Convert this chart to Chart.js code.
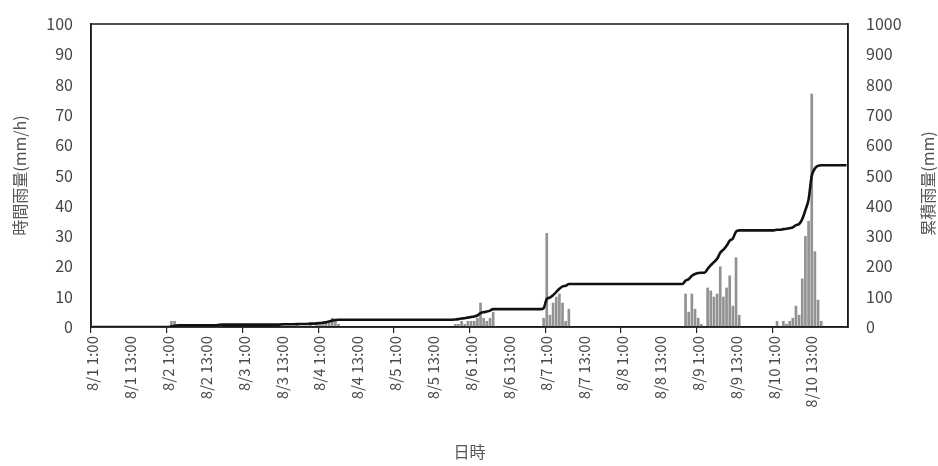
<!DOCTYPE html>
<html>
<head>
<meta charset="utf-8">
<script src="https://cdn.jsdelivr.net/npm/chart.js@4/dist/chart.umd.min.js"></script>
<style>
  html, body { margin: 0; padding: 0; background: #fff; }
  #wrap { width: 938px; height: 466px; }
</style>
</head>
<body>
<div id="wrap"><canvas id="c" width="938" height="466"></canvas></div>
<script>
// Days covered by the record (each day runs 1:00 ... 24:00, shown as next day 0:00)
const days = ['8/1', '8/2', '8/3', '8/4', '8/5', '8/6', '8/7', '8/8', '8/9', '8/10', '8/11'];

// Hourly rainfall (mm/h), one row per day, 1:00 ... 0:00
const hourlyRain = [
  0, 0, 0, 0, 0, 0, 0, 0, 0, 0, 0, 0, 0, 0, 0, 0, 0, 0, 0, 0, 0, 0, 0, 0,        // 8/1
  0, 2, 2, 1, 1, 0, 0, 0, 0, 0, 0, 0, 0, 0, 0, 0, 1, 1, 0, 0, 0, 0, 0, 0,        // 8/2
  0, 0, 0, 0, 0, 0, 0, 0, 0, 0, 0, 0, 1, 0, 0, 0, 0, 1, 0, 0, 0, 1, 0, 1,        // 8/3
  1, 1, 2, 2, 3, 2, 1, 0, 0, 0, 0, 0, 0, 0, 0, 0, 0, 0, 0, 0, 0, 0, 0, 0,        // 8/4
  0, 0, 0, 0, 0, 0, 0, 0, 0, 0, 0, 0, 0, 0, 0, 0, 0, 0, 0, 1, 1, 2, 1, 2,        // 8/5
  2, 2, 3, 8, 3, 2, 3, 5, 0, 0, 0, 0, 0, 0, 0, 0, 0, 0, 0, 0, 0, 0, 0, 3,        // 8/6
  31, 4, 8, 10, 11, 8, 2, 6, 0, 0, 0, 0, 0, 0, 0, 0, 0, 0, 0, 0, 0, 0, 0, 0,     // 8/7
  0, 0, 0, 0, 0, 0, 0, 0, 0, 0, 0, 0, 0, 0, 0, 0, 0, 0, 0, 0, 11, 5, 11, 6,      // 8/8
  3, 1, 0, 13, 12, 10, 11, 20, 10, 13, 17, 7, 23, 4, 0, 0, 0, 0, 0, 0, 0, 0, 0, 0, // 8/9
  0, 2, 0, 2, 1, 2, 3, 7, 4, 16, 30, 35, 77, 25, 9, 2, 0, 0, 0, 0, 0, 0, 0, 0     // 8/10
];

// Cumulative rainfall (mm), same hours
const cumulativeRain = [
  0, 0, 0, 0, 0, 0, 0, 0, 0, 0, 0, 0, 0, 0, 0, 0, 0, 0, 0, 0, 0, 0, 0, 0,                            // 8/1
  0, 2, 4, 5, 6, 6, 6, 6, 6, 6, 6, 6, 6, 6, 6, 6, 7, 8, 8, 8, 8, 8, 8, 8,                            // 8/2
  8, 8, 8, 8, 8, 8, 8, 8, 8, 8, 8, 8, 9, 9, 9, 9, 9, 10, 10, 10, 10, 11, 11, 12,                     // 8/3
  13, 14, 16, 18, 21, 23, 24, 24, 24, 24, 24, 24, 24, 24, 24, 24, 24, 24, 24, 24, 24, 24, 24, 24,    // 8/4
  24, 24, 24, 24, 24, 24, 24, 24, 24, 24, 24, 24, 24, 24, 24, 24, 24, 24, 24, 25, 26, 28, 29, 31,    // 8/5
  33, 35, 38, 46, 49, 51, 54, 59, 59, 59, 59, 59, 59, 59, 59, 59, 59, 59, 59, 59, 59, 59, 59, 62,    // 8/6
  93, 97, 105, 115, 126, 134, 136, 142, 142, 142, 142, 142, 142, 142, 142, 142, 142, 142, 142, 142, 142, 142, 142, 142, // 8/7
  142, 142, 142, 142, 142, 142, 142, 142, 142, 142, 142, 142, 142, 142, 142, 142, 142, 142, 142, 142, 153, 158, 169, 175, // 8/8
  178, 179, 179, 192, 204, 214, 225, 245, 255, 268, 285, 292, 315, 319, 319, 319, 319, 319, 319, 319, 319, 319, 319, 319, // 8/9
  319, 321, 321, 323, 324, 326, 329, 336, 340, 356, 386, 421, 498, 523, 532, 534, 534, 534, 534, 534, 534, 534, 534, 534  // 8/10
];

// Axis ranges
const rainTicks = { min: 0, max: 100, step: 10 };
const cumTicks = { min: 0, max: 1000, step: 100 };
const labelEvery = 12;   // a date label every 12 hours
const markEvery = 24;    // a tick mark once a day

// Hour labels "8/1 1:00" ... "8/11 0:00"
const hourLabels = [];
for (let d = 0; d < days.length - 1; d++) {
  for (let h = 1; h <= 24; h++) {
    hourLabels.push(h < 24 ? days[d] + ' ' + h + ':00' : days[d + 1] + ' 0:00');
  }
}

const FONT = '"Noto Sans CJK JP", "Noto Sans", sans-serif';

// Black frame around the plot area, and the right-hand axis title
const framePlugin = {
  id: 'frame',
  afterDraw(chart) {
    const { ctx, chartArea: a } = chart;
    ctx.save();
    ctx.strokeStyle = '#1a1a1a';
    ctx.lineWidth = 1.5;
    ctx.strokeRect(a.left, a.top, a.right - a.left, a.bottom - a.top);
    ctx.translate(928, (a.top + a.bottom) / 2 + 8);
    ctx.rotate(-Math.PI / 2);
    ctx.fillStyle = '#555';
    ctx.font = '16px ' + FONT;
    ctx.textAlign = 'center';
    ctx.textBaseline = 'middle';
    ctx.fillText('累積雨量(mm)', 0, 0);
    ctx.restore();
  }
};

// Fixed axis boxes so the plot area sits at a set place
const fitY = w => s => { s.width = w; s.paddingTop = 0; s.paddingBottom = 0; };

new Chart(document.getElementById('c'), {
  type: 'bar',
  data: {
    labels: hourLabels,
    datasets: [
      {
        type: 'line',
        label: '累積雨量',
        data: cumulativeRain,
        yAxisID: 'y1',
        borderColor: '#111',
        borderWidth: 2.6,
        pointRadius: 0,
        cubicInterpolationMode: 'monotone',
        order: 0
      },
      {
        type: 'bar',
        label: '時間雨量',
        data: hourlyRain,
        yAxisID: 'y',
        backgroundColor: '#929292',
        barPercentage: 0.85,
        categoryPercentage: 1,
        order: 1
      }
    ]
  },
  options: {
    responsive: false,
    animation: false,
    layout: { padding: { top: 24, left: 0, right: 0, bottom: 0 } },
    plugins: { legend: { display: false }, tooltip: { enabled: false } },
    scales: {
      x: {
        offset: true,
        grid: {
          offset: true,
          drawOnChartArea: false,
          tickLength: 6,
          lineWidth: 1.2,
          color: c => (c.index % markEvery === 0 ? '#222' : 'rgba(0,0,0,0)')
        },
        border: { color: '#1a1a1a', width: 1.5 },
        ticks: {
          autoSkip: false,
          maxRotation: 90,
          minRotation: 90,
          padding: 3,
          color: '#4a4a4a',
          font: { family: FONT, size: 15 },
          callback: (v, i) => (i % labelEvery === 0 ? hourLabels[i] : '')
        },
        title: {
          display: true,
          text: '日時',
          color: '#555',
          font: { family: FONT, size: 16 },
          padding: { top: 0, bottom: 4 }
        },
        afterFit: s => { s.height = 139; s.paddingLeft = 0; s.paddingRight = 0; }
      },
      y: {
        position: 'left',
        min: rainTicks.min,
        max: rainTicks.max,
        ticks: { stepSize: rainTicks.step, padding: 18, color: '#444', font: { family: FONT, size: 16 },
                 callback: v => String(v) },
        grid: { drawOnChartArea: false, drawTicks: false },
        border: { color: '#1a1a1a', width: 1.5 },
        title: {
          display: true,
          text: '時間雨量(mm/h)',
          color: '#555',
          font: { family: FONT, size: 16 },
          padding: { top: 10, bottom: 0 }
        },
        afterFit: fitY(91)
      },
      y1: {
        position: 'right',
        min: cumTicks.min,
        max: cumTicks.max,
        ticks: { stepSize: cumTicks.step, padding: 18, color: '#444', font: { family: FONT, size: 16 },
                 callback: v => String(v) },
        grid: { drawOnChartArea: false, drawTicks: false },
        border: { color: '#1a1a1a', width: 1.5 },
        afterFit: fitY(90)
      }
    }
  },
  plugins: [framePlugin]
});
</script>
</body>
</html>
